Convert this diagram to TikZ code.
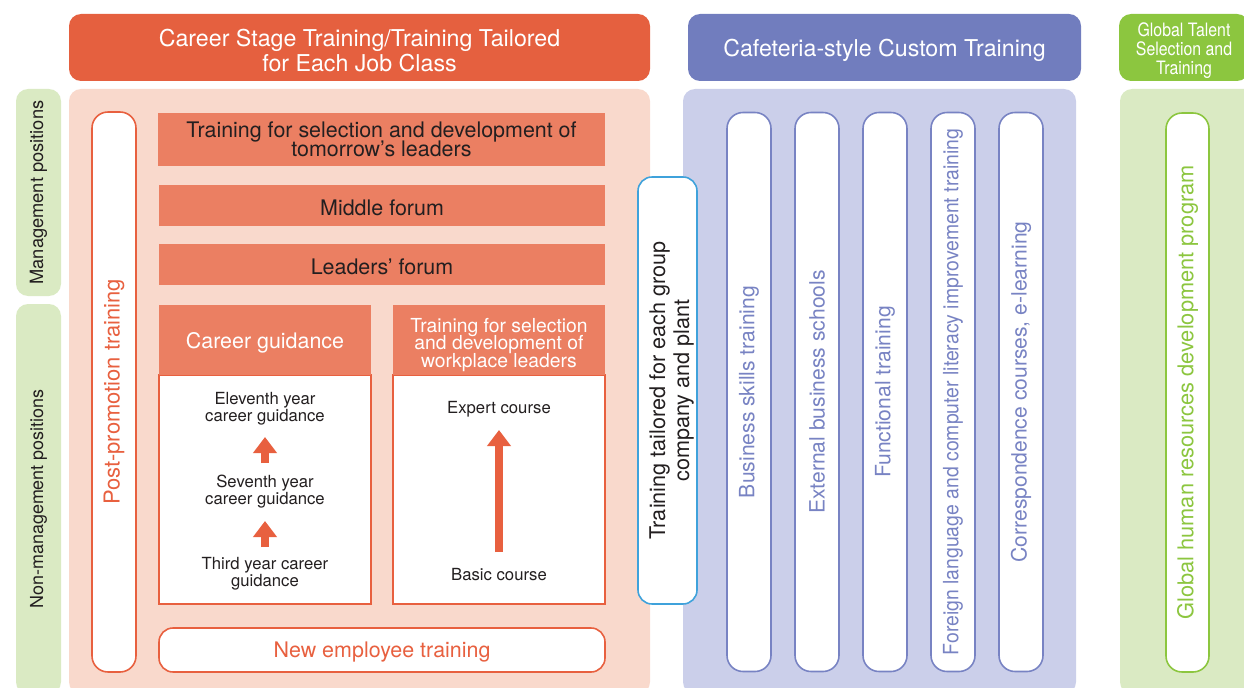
\documentclass[tikz,border=0pt]{standalone}
\usepackage{fontspec}
\setmainfont{TeX Gyre Heros}
\newfontfamily\narrowfont[FakeStretch=0.86]{TeX Gyre Heros}
\newfontfamily\pillnarrow[FakeStretch=0.92]{TeX Gyre Heros}
\usetikzlibrary{arrows.meta}
\newcommand\pxu{0.2mm}
\newcommand\tightlines{\lineskiplimit=-6pt\relax}
\definecolor{hdrorange}{HTML}{E5603F}
\definecolor{barorange}{HTML}{EB7F62}
\definecolor{panelorange}{HTML}{F9D9CC}
\definecolor{lineorange}{HTML}{E8603F}
\definecolor{hdrblue}{HTML}{717DBE}
\definecolor{panelblue}{HTML}{CBCFEA}
\definecolor{lineblue}{HTML}{7883C3}
\definecolor{hdrgreen}{HTML}{8CC63F}
\definecolor{panelgreen}{HTML}{DAEAC3}
\definecolor{linecyan}{HTML}{3FA2DB}
\definecolor{textdark}{HTML}{231F20}
\tikzset{box/.style n args={2}{minimum width=#1*\pxu, minimum height=#2*\pxu,
         inner sep=0pt, outer sep=0pt, align=center},
         header/.style={rounded corners=2.4mm, inner sep=0pt, outer sep=0pt},
         hdrtext/.style={text=white, align=center, inner sep=0pt,
         font=\fontsize{13.2}{14.7}\selectfont},
         panel/.style={rounded corners=2.4mm},
         bar/.style={fill=barorange, text=textdark,
         font=\fontsize{12.2}{10.8}\selectfont\tightlines},
         pill/.style={draw=#1, fill=white, text=#1, line width=0.9pt,
         rounded corners=3.2mm, rotate=90, font=\fontsize{12}{13.6}\selectfont},
         small/.style={text=textdark, align=center, inner sep=0pt,
         font=\fontsize{9.5}{9.8}\selectfont\tightlines},
         uparrow/.style={draw=lineorange, line width=8*\pxu,
         -{Triangle[width=23*\pxu, length=16*\pxu]}}}
\begin{document}
\begin{tikzpicture}[x=\pxu,y=-\pxu]
  \useasboundingbox (0,0) rectangle (1244,688);
  \clip (0,0) rectangle (1244,688);

  \node[header, fill=hdrorange, box={581}{67}] (careerhdr) at (359.5,47.5) {};
  \node[hdrtext] (careertext) at (359.5,50.5) {Career Stage Training/Training Tailored\\for Each Job Class};
  \node[header, fill=hdrblue, box={393}{67}] (cafehdr) at (884.5,47.5) {};
  \node[hdrtext] (cafetext) at (884.5,50) {Cafeteria-style Custom Training};
  \node[header, fill=hdrgreen, box={130}{67}] (globalhdr) at (1184,47.5) {};
  \node[hdrtext, font=\narrowfont\fontsize{10.5}{10.8}\selectfont\tightlines]
    (globaltext) at (1184,51) {Global Talent\\Selection and\\Training};

  \node[panel, fill=panelgreen, box={45}{207}] (mgmt) at (38.5,192.5) {};
  \node[rotate=90, text=textdark, font=\fontsize{10.4}{12}\selectfont] at (mgmt) {Management positions};
  \node[panel, fill=panelgreen, box={45}{390}] (nonmgmt) at (38.5,499) {};
  \node[rotate=90, text=textdark, font=\fontsize{10.2}{12}\selectfont] at (nonmgmt) {Non-management positions};

  \node[panel, fill=panelorange, box={581}{605}] (careerpanel) at (359.5,391.5) {};
  \node[panel, fill=panelblue, box={393}{605}] (cafepanel) at (879.5,391.5) {};
  \node[panel, fill=panelgreen, box={140}{605}] (globalpanel) at (1190,391.5) {};

  \node[pill=lineorange, box={560}{44}, font=\fontsize{12.5}{13.6}\selectfont] (postpill) at (114,392)
    {Post-promotion training};

  \node[bar, box={447}{53}] (tomorrow) at (381.5,139.5)
    {Training for selection and development of\\tomorrow’s leaders};
  \node[bar, box={446}{41}] (middle) at (382,205.5) {};
  \node[bar, fill=none, inner sep=0pt] at (382,207.5) {Middle forum};
  \node[bar, box={446}{41}] (leaders) at (382,264.5) {};
  \node[bar, fill=none, inner sep=0pt] at (382,266.5) {Leaders’ forum};

  \node[draw=lineorange, fill=white, line width=0.8pt, box={212}{229}] (guidebody) at (265,489.5) {};
  \node[bar, box={212}{70}] (guidehdr) at (265,340) {};
  \node[bar, fill=none, text=white, inner sep=0pt] at (265,343) {Career guidance};
  \node[draw=lineorange, fill=white, line width=0.8pt, box={212}{229}] (workbody) at (499,489.5) {};
  \node[bar, box={212}{70}] (workhdr) at (499,340) {};
  \node[bar, fill=none, text=white, align=center, inner sep=0pt,
    font=\fontsize{11}{10.2}\selectfont\tightlines] at (499,345)
    {Training for selection\\and development of\\workplace leaders};

  \node[small] (eleventh) at (265,409) {Eleventh year\\career guidance};
  \node[small] (seventh) at (265,491.5) {Seventh year\\career guidance};
  \node[small] (third) at (265,573.5) {Third year career\\guidance};
  \node[small] (expert) at (499,409.5) {Expert course};
  \node[small] (basic) at (499,575) {Basic course};
  \draw[uparrow, shorten <=26.5*\pxu, shorten >=29.5*\pxu] (third.center) -- (seventh.center);
  \draw[uparrow, shorten <=28.5*\pxu, shorten >=28*\pxu] (seventh.center) -- (eleventh.center);
  \draw[uparrow, shorten <=23*\pxu, shorten >=20.5*\pxu] (basic.center) -- (expert.center);

  \node[draw=lineorange, fill=white, text=lineorange, line width=0.9pt, rounded corners=2.8mm,
    box={446}{44}, font=\fontsize{12.2}{13.6}\selectfont] (newemp) at (382,650) {};
  \node[text=lineorange, inner sep=0pt, font=\fontsize{12.2}{13.6}\selectfont] at (382,652)
    {New employee training};

  \node[pill=linecyan, rounded corners=2.8mm, box={427}{59}] (groupbox) at (667.5,390.5) {};
  \node[rotate=90, text=textdark, align=center, inner sep=0pt,
    font=\fontsize{12.3}{13.6}\selectfont] (grouptext) at (671.5,390.5)
    {Training tailored for each group\\company and plant};

  \node[pill=lineblue, box={559}{44}] (business) at (749,392) {Business skills training};
  \node[pill=lineblue, box={559}{44}] (external) at (817,392) {External business schools};
  \node[pill=lineblue, box={559}{44}] (functional) at (885,392) {Functional training};
  \node[pill=lineblue, box={559}{44}, font=\pillnarrow\fontsize{12}{13.6}\selectfont] (foreign) at (953,392)
    {Foreign language and computer literacy improvement training};
  \node[pill=lineblue, box={559}{44}] (corresp) at (1021,392) {Correspondence courses, e-learning};

  \node[pill=hdrgreen, box={559}{43}, font=\fontsize{12.4}{13.6}\selectfont] (globalpill) at (1187.5,392.5)
    {Global human resources development program};

\end{tikzpicture}
\end{document}
